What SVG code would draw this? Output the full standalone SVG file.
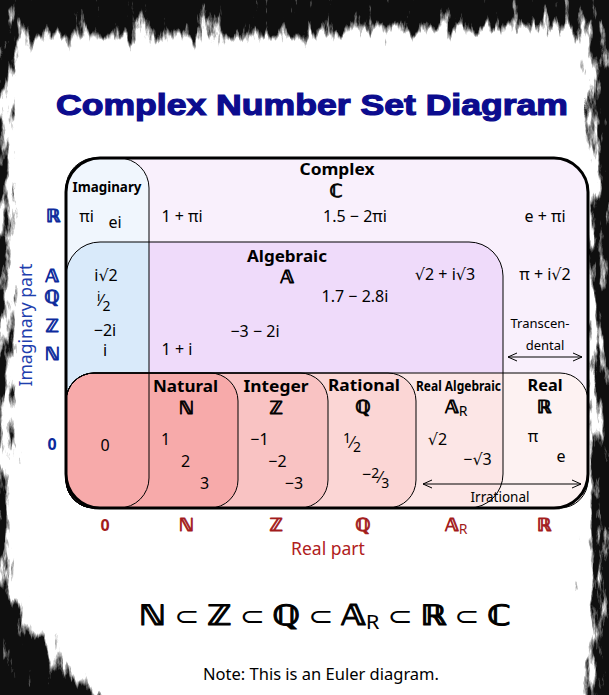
<svg xmlns="http://www.w3.org/2000/svg" width="609" height="695" viewBox="0 0 609 695">
<defs>
<style>
.t{font-family:"Noto Sans","DejaVu Sans",sans-serif;font-size:16px;fill:#000;text-anchor:middle}
.s{text-anchor:start}
.b{font-weight:bold}
.h{font-size:16px;font-weight:bold}
.ds{font-family:"DejaVu Serif","DejaVu Sans",serif;font-weight:bold;font-size:18px;stroke:#000;stroke-width:0.8;stroke-linejoin:round}
.sub{font-family:"Noto Sans","DejaVu Sans",sans-serif;font-weight:normal;stroke:none}
.blue{fill:#0c2a9c}
.ds.blue{stroke:#0c2a9c}
.red{fill:#a31c1c}
.ds.red{stroke:#a31c1c}
.ln{fill:none;stroke:#000;stroke-width:1}
</style>
<clipPath id="cAlg"><rect x="66" y="242" width="437" height="266" rx="34"/></clipPath>
<marker id="ah" viewBox="-10 -5 11 10" refX="0" refY="0" markerWidth="11" markerHeight="10" markerUnits="userSpaceOnUse" orient="auto-start-reverse">
<path d="M-9,-4 L0,0 L-9,4" fill="none" stroke="#000" stroke-width="1"/>
</marker>
<filter id="grunge" filterUnits="userSpaceOnUse" x="-60" y="-60" width="730" height="815" color-interpolation-filters="sRGB">
<feTurbulence type="fractalNoise" baseFrequency="0.11 0.025" numOctaves="5" seed="11" result="noise"/>
<feColorMatrix in="noise" type="matrix" values="1 0 0 0 0  1 0 0 0 0  1 0 0 0 0  0 0 0 0 1" result="gray"/>
<feGaussianBlur in="SourceGraphic" stdDeviation="14" result="edge"/>
<feComposite in="gray" in2="edge" operator="arithmetic" k1="0" k2="1.1" k3="1" k4="-1.02" result="v"/>
<feColorMatrix in="v" type="matrix" values="0 0 0 0 0.06  0 0 0 0 0.06  0 0 0 0 0.06  4 0 0 0 -0.4"/>
</filter>
</defs>

<rect width="609" height="695" fill="#fff"/>
<g id="background" filter="url(#grunge)">
<rect x="-60" y="-60" width="730" height="815" fill="#fff"/>
<path d="M12,42 H330 L345,34 H588 V760 H150 L12,590 Z" fill="#000"/>
</g>

<text x="312" y="115" style="font-family:'Liberation Sans',Arial,sans-serif;font-size:29.5px;font-weight:bold;fill:#0c0c8e;stroke:#0c0c8e;stroke-width:1.2;text-anchor:middle" textLength="512" lengthAdjust="spacingAndGlyphs">Complex Number Set Diagram</text>

<g id="complex">
<rect x="66" y="158" width="522" height="350" rx="34" fill="#f9f0fc"/>
</g>
<g id="imaginary">
<rect x="66" y="158" width="83" height="350" rx="30" fill="#f0f6fd"/>
</g>
<g id="algebraic">
<rect x="66" y="242" width="437" height="266" rx="34" fill="#efdbfa"/>
<rect x="66" y="158" width="83" height="350" rx="30" fill="#d9eafa" clip-path="url(#cAlg)"/>
</g>
<g id="real">
<rect x="66" y="373" width="522" height="135" rx="28" fill="#fdf2f2"/>
<rect x="66" y="373" width="522" height="135" rx="28" fill="#fce6e6" clip-path="url(#cAlg)"/>
</g>
<g id="rational">
<rect x="66" y="373" width="350" height="135" rx="28" fill="#fbd6d5"/>
</g>
<g id="integer">
<rect x="66" y="373" width="262" height="135" rx="28" fill="#f9c3c3"/>
</g>
<g id="natural">
<rect x="66" y="373" width="172" height="135" rx="28" fill="#f7aaaa"/>
</g>
<g id="outlines">
<rect class="ln" x="66" y="158" width="83" height="350" rx="30"/>
<rect class="ln" x="66" y="242" width="437" height="266" rx="34"/>
<rect class="ln" x="66" y="373" width="522" height="135" rx="28"/>
<rect class="ln" x="66" y="373" width="350" height="135" rx="28"/>
<rect class="ln" x="66" y="373" width="262" height="135" rx="28"/>
<rect class="ln" x="66" y="373" width="172" height="135" rx="28"/>
<rect x="66" y="158" width="522" height="350" rx="34" fill="none" stroke="#000" stroke-width="3"/>
</g>

<g id="connectors">
<line x1="508" y1="357" x2="582" y2="357" stroke="#000" stroke-width="1" marker-start="url(#ah)" marker-end="url(#ah)"/>
<line x1="423" y1="484" x2="581" y2="484" stroke="#000" stroke-width="1" marker-start="url(#ah)" marker-end="url(#ah)"/>
</g>

<g id="labels">
<text class="t h" x="337" y="175" textLength="75" lengthAdjust="spacingAndGlyphs">Complex</text>
<text class="t ds" x="336" y="197">ℂ</text>
<text class="t b" x="107" y="192" style="font-size:14px" textLength="69" lengthAdjust="spacingAndGlyphs">Imaginary</text>
<text class="t" x="86.5" y="222">πi</text>
<text class="t" x="115" y="228">ei</text>
<text class="t" x="182" y="222">1 + πi</text>
<text class="t" x="355" y="222">1.5 − 2πi</text>
<text class="t" x="545" y="222">e + πi</text>
<text class="t h" x="287" y="262" textLength="80" lengthAdjust="spacingAndGlyphs">Algebraic</text>
<text class="t ds" x="287" y="283">𝔸</text>
<text class="t" x="106" y="281">i√2</text>
<text class="t" x="445" y="280">√2 + i√3</text>
<text class="t" x="545" y="280">π + i√2</text>
<text class="t s" x="97"><tspan y="301" style="font-size:13px">i</tspan><tspan y="306">⁄</tspan><tspan y="311" style="font-size:14px">2</tspan></text>
<text class="t" x="355" y="302">1.7 − 2.8i</text>
<text class="t" x="105" y="336">−2i</text>
<text class="t" x="255" y="337">−3 − 2i</text>
<text class="t" x="540" y="328" style="font-size:13px">Transcen-</text>
<text class="t" x="545" y="350" style="font-size:13px">dental</text>
<text class="t" x="105" y="356">i</text>
<text class="t" x="177" y="355">1 + i</text>

<text class="t h" x="185.5" y="392" textLength="65" lengthAdjust="spacingAndGlyphs">Natural</text>
<text class="t ds" x="186" y="414">ℕ</text>
<text class="t h" x="276" y="392" textLength="65" lengthAdjust="spacingAndGlyphs">Integer</text>
<text class="t ds" x="276" y="414">ℤ</text>
<text class="t h" x="364" y="391" textLength="72" lengthAdjust="spacingAndGlyphs">Rational</text>
<text class="t ds" x="363" y="413">ℚ</text>
<text class="t b" x="458.5" y="391" style="font-size:14px" textLength="85" lengthAdjust="spacingAndGlyphs">Real Algebraic</text>
<text class="t s" x="445" y="413"><tspan class="ds">𝔸</tspan><tspan class="sub" style="font-size:14px" dy="3">R</tspan></text>
<text class="t h" x="545" y="391" textLength="35" lengthAdjust="spacingAndGlyphs">Real</text>
<text class="t ds" x="544" y="413">ℝ</text>

<text class="t" x="105" y="451">0</text>
<text class="t" x="165.5" y="445">1</text>
<text class="t" x="185.5" y="467">2</text>
<text class="t" x="204.5" y="489">3</text>
<text class="t" x="259.5" y="445">−1</text>
<text class="t" x="277.5" y="467">−2</text>
<text class="t" x="294" y="489">−3</text>
<text class="t s" x="343"><tspan y="443" style="font-size:14px">1</tspan><tspan y="448">⁄</tspan><tspan y="452" style="font-size:14px">2</tspan></text>
<text class="t s" x="362"><tspan y="480">−</tspan><tspan y="478" style="font-size:14px">2</tspan><tspan y="483">⁄</tspan><tspan y="488" style="font-size:14px">3</tspan></text>
<text class="t" x="437.5" y="445">√2</text>
<text class="t" x="477.5" y="465">−√3</text>
<text class="t" x="533" y="442">π</text>
<text class="t" x="561" y="462">e</text>
<text class="t" x="500" y="502" style="font-size:13.5px">Irrational</text>
</g>

<g id="axes">
<text class="t ds blue" x="53" y="222">ℝ</text>
<text class="t ds blue" x="52" y="282">𝔸</text>
<text class="t ds blue" x="52" y="303">ℚ</text>
<text class="t ds blue" x="52" y="332">ℤ</text>
<text class="t ds blue" x="52" y="360">ℕ</text>
<text class="t h blue" x="52" y="450">0</text>
<text class="t" transform="translate(32,325) rotate(-90)" style="font-size:17.5px;fill:#1f3fae">Imaginary part</text>

<text class="t h red" x="105" y="531">0</text>
<text class="t ds red" x="186" y="531">ℕ</text>
<text class="t ds red" x="276" y="531">ℤ</text>
<text class="t ds red" x="363" y="531">ℚ</text>
<text class="t s red" x="445" y="531"><tspan class="ds red">𝔸</tspan><tspan class="sub" style="font-size:14px" dy="3">R</tspan></text>
<text class="t ds red" x="544" y="531">ℝ</text>
<text class="t" x="328" y="555" style="font-size:17.5px;fill:#b02020">Real part</text>
</g>

<g id="formula">
<text class="t" x="325" y="625" style="font-size:26px" textLength="372" lengthAdjust="spacingAndGlyphs"><tspan class="ds" style="font-size:28px;stroke-width:1">ℕ</tspan> ⊂ <tspan class="ds" style="font-size:28px;stroke-width:1">ℤ</tspan> ⊂ <tspan class="ds" style="font-size:28px;stroke-width:1">ℚ</tspan> ⊂ <tspan class="ds" style="font-size:28px;stroke-width:1">𝔸</tspan><tspan style="font-size:19px" dy="4">R</tspan><tspan dy="-4"> ⊂ </tspan><tspan class="ds" style="font-size:28px;stroke-width:1">ℝ</tspan> ⊂ <tspan class="ds" style="font-size:28px;stroke-width:1">ℂ</tspan></text>
<text class="t" x="321" y="680" style="font-size:16.5px">Note: This is an Euler diagram.</text>
</g>
</svg>
